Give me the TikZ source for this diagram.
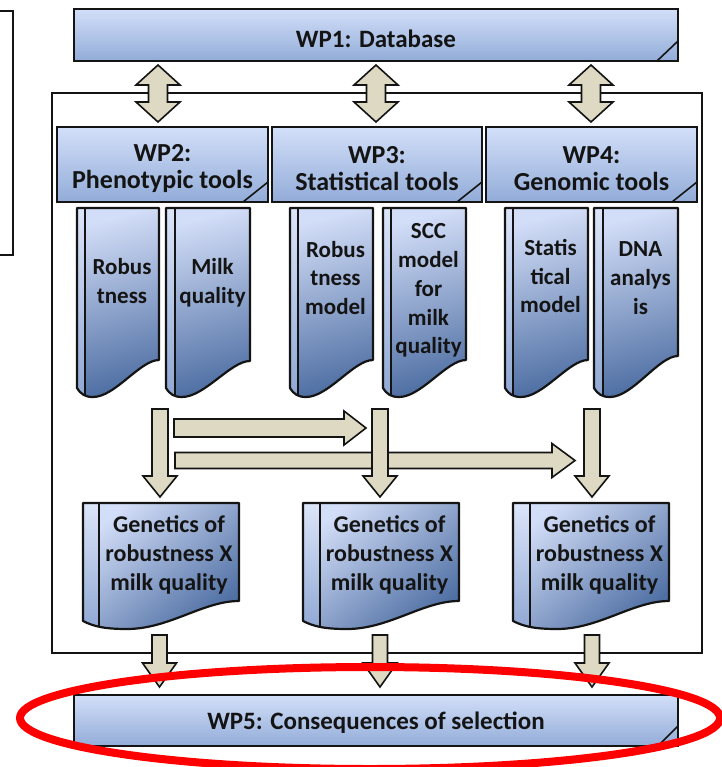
\documentclass[tikz,border=0pt]{standalone}
\usepackage{fontspec}
\setmainfont{Carlito}
\definecolor{arrowfill}{HTML}{DDD9C3}
\definecolor{boxtop}{HTML}{D3DFF9}
\definecolor{boxbot}{HTML}{92ACD8}
\definecolor{doctop}{HTML}{D2DDF7}
\definecolor{docbot}{HTML}{5070A4}
\definecolor{striptop}{HTML}{DCE5F9}
\definecolor{stripbot}{HTML}{8CA5D2}
\definecolor{ink}{HTML}{141414}
\definecolor{ringred}{HTML}{FF0000}
% #1 L, #2 R, #3 T, #4 yR, #5 xLow, #6 yLow, #7 yL, #8 strip width, #9 shading style
\newcommand\docshape[9]{%
  \shade[#9] (#1,#3) -- (#2,#3) -- (#2,#4) .. controls ({#2-0.23*(#2-#1)},#4) and ({#5+0.27*(#2-#1)},#6) .. (#5,#6) .. controls ({#5-0.5*(#5-#1)},#6) and ({#1+0.25*(#5-#1)},{#6-0.3*(#6-#7)}) .. (#1,#7) -- cycle;
  \begin{scope}
    \clip (#1,#3) -- (#2,#3) -- (#2,#4) .. controls ({#2-0.23*(#2-#1)},#4) and ({#5+0.27*(#2-#1)},#6) .. (#5,#6) .. controls ({#5-0.5*(#5-#1)},#6) and ({#1+0.25*(#5-#1)},{#6-0.3*(#6-#7)}) .. (#1,#7) -- cycle;
    \shade[stripshade] (#1,#3) rectangle ({#1+#8},{#6+6});
    \draw[ink, line width=1.8pt] ({#1+#8},#3) -- ({#1+#8},{#6+6});
  \end{scope}
  \draw[ink, line width=2.2pt, line join=round] (#1,#3) -- (#2,#3) -- (#2,#4) .. controls ({#2-0.23*(#2-#1)},#4) and ({#5+0.27*(#2-#1)},#6) .. (#5,#6) .. controls ({#5-0.5*(#5-#1)},#6) and ({#1+0.25*(#5-#1)},{#6-0.3*(#6-#7)}) .. (#1,#7) -- cycle;
}
% #1 cx, #2 top, #3 head base, #4 tip, #5 shaft half, #6 head half
\newcommand\dnarrow[6]{%
  \draw[blockarrow] ({#1-#5},#2) -- ({#1+#5},#2) -- ({#1+#5},#3) -- ({#1+#6},#3) -- (#1,#4) -- ({#1-#6},#3) -- ({#1-#5},#3) -- cycle;
}
% #1 cy, #2 left, #3 head base, #4 tip, #5 shaft half, #6 head half
\newcommand\rtarrow[6]{%
  \draw[blockarrow] (#2,{#1-#5}) -- (#3,{#1-#5}) -- (#3,{#1-#6}) -- (#4,#1) -- (#3,{#1+#6}) -- (#3,{#1+#5}) -- (#2,{#1+#5}) -- cycle;
}
% #1 cx, #2 top tip, #3 top base, #4 bottom base, #5 bottom tip, #6 shaft half, #7 head half
\newcommand\dblarrow[7]{%
  \draw[blockarrow] (#1,#2) -- ({#1+#7},#3) -- ({#1+#6},#3) -- ({#1+#6},#4) -- ({#1+#7},#4) -- (#1,#5) -- ({#1-#7},#4) -- ({#1-#6},#4) -- ({#1-#6},#3) -- ({#1-#7},#3) -- cycle;
}
\begin{document}
\begin{tikzpicture}[x=1pt,y=-1pt,
  blockarrow/.style={draw=ink, line width=1.6pt, fill=arrowfill, line join=miter},
  wpbox/.style={draw=ink, line width=2.2pt, top color=boxtop, bottom color=boxbot, inner sep=0pt, outer sep=0pt},
  fold/.style={draw=ink, line width=1.6pt},
  hdr/.style={font=\bfseries\fontsize{26}{27}\selectfont, text=ink, align=center, inner sep=0pt},
  wtext/.style={font=\bfseries\fontsize{25}{27}\selectfont, text=ink, align=center, inner sep=0pt},
  dtext/.style={font=\bfseries\fontsize{23}{28.8}\selectfont, text=ink, align=center, inner sep=0pt},
  gtext/.style={font=\bfseries\fontsize{24}{28.8}\selectfont, text=ink, align=center, inner sep=0pt},
  tallshade/.style={top color=doctop, bottom color=docbot, shading angle=15},
  wideshade/.style={top color=doctop, bottom color=docbot, shading angle=40},
  stripshade/.style={top color=striptop, bottom color=stripbot}]
\useasboundingbox (0,0) rectangle (721,767);
\fill[white] (0,0) rectangle (721,767);

% partial box at the left edge
\draw[ink, line width=2.5pt] (-3,11) -- (13,11) -- (13,255) -- (-3,255);

% outer frame
\draw[ink, line width=1.5pt] (52,93) rectangle (702,653);

% WP1
\node[wpbox, minimum width=604pt, minimum height=52pt] (wp1) at (376,35) {};
\draw[fold] ([yshift=20pt]wp1.south east) -- ([xshift=-21pt]wp1.south east);
\node[wtext] (wp1l) at (376,39) {WP1: Database};

% WP2-4
\node[wpbox, minimum width=211pt, minimum height=75pt] (wp2) at (162.5,164.5) {};
\node[wpbox, minimum width=210pt, minimum height=75pt] (wp3) at (377,164.5) {};
\node[wpbox, minimum width=211pt, minimum height=75pt] (wp4) at (591.5,164.5) {};
\foreach \b in {wp2,wp3,wp4}{
  \draw[fold] ([yshift=20pt]\b.south east) -- ([xshift=-25pt]\b.south east);
}
\node[hdr] (wp2l) at (162.5,169) {WP2:\\Phenotypic tools};
\node[hdr] (wp3l) at (377,169) {WP3:\\Statistical tools};
\node[hdr] (wp4l) at (591.5,169) {WP4:\\Genomic tools};

% double arrows WP1 <-> WP2..4
\dblarrow{158}{65}{85}{102}{122}{9.5}{22}
\dblarrow{376}{65}{85}{102}{122}{9.5}{22}
\dblarrow{591}{65}{85}{102}{122}{9.5}{22}

% tall documents
\docshape{77}{159}{208}{360}{93}{397}{388}{8}{tallshade}
\docshape{166}{250}{208}{361}{182}{397}{388}{9}{tallshade}
\docshape{290}{373}{208}{360}{306}{397}{388}{8}{tallshade}
\docshape{383}{466}{208}{360}{399}{397}{388}{8}{tallshade}
\docshape{505}{588}{208}{360}{521}{397}{388}{8}{tallshade}
\docshape{594}{678}{208}{356}{610}{397}{388}{9}{tallshade}
\node[dtext] (d1) at (122,281) {Robus\\tness};
\node[dtext] (d2) at (212.5,283) {Milk\\quality};
\node[dtext] (d3) at (335.5,278) {Robus\\tness\\model};
\node[dtext] (d4) at (428.5,290.5) {SCC\\model\\for\\milk\\quality};
\node[dtext] (d5) at (550.5,276) {Statis\\tical\\model};
\node[dtext] (d6) at (640.5,278) {DNA\\analys\\is};

% middle arrows
\rtarrow{428}{174}{344}{366}{9}{17}
\rtarrow{460.5}{175}{552}{575}{8}{17}
\dnarrow{160}{409}{476}{497}{8}{17}
\dnarrow{380}{409}{476}{497}{8}{17}
\dnarrow{592}{409}{476}{497}{8}{17}

% bottom documents
\docshape{83}{239}{503}{601}{127}{629}{621}{16}{wideshade}
\docshape{303}{459}{503}{601}{347}{629}{621}{17}{wideshade}
\docshape{513}{669}{503}{601}{557}{629}{621}{17}{wideshade}
\node[gtext] (g1) at (169,555) {Genetics of\\robustness X\\milk quality};
\node[gtext] (g2) at (389.5,555) {Genetics of\\robustness X\\milk quality};
\node[gtext] (g3) at (599.5,555) {Genetics of\\robustness X\\milk quality};

% arrows down to WP5
\dnarrow{159.5}{635}{663}{687}{7.5}{17}
\dnarrow{380}{635}{663}{687}{7.5}{17}
\dnarrow{592}{635}{663}{687}{7.5}{17}

% WP5
\node[wpbox, minimum width=604pt, minimum height=51pt] (wp5) at (376,720.5) {};
\draw[fold] ([yshift=20pt]wp5.south east) -- ([xshift=-20pt]wp5.south east);
\node[wtext] (wp5l) at (376,723) {WP5: Consequences of selection};

% red ring
\draw[ringred, line width=8pt] (370,718) ellipse [x radius=350, y radius=51];
\end{tikzpicture}
\end{document}
